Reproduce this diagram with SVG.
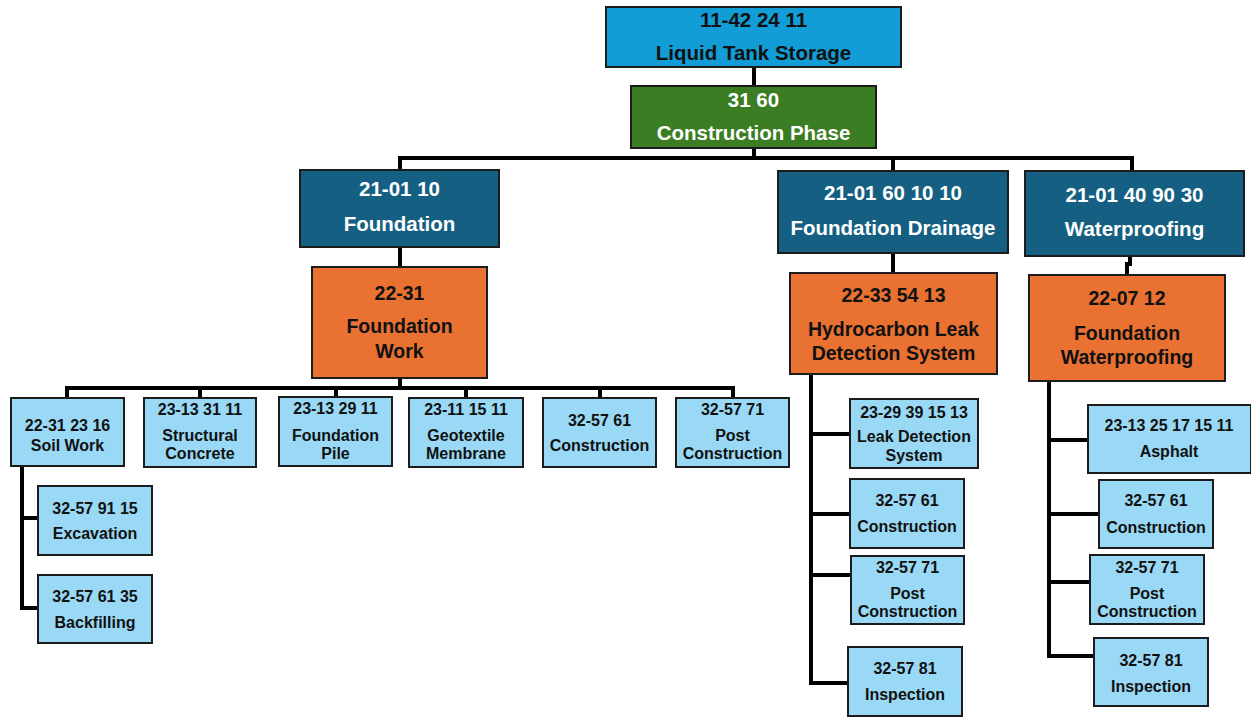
<svg xmlns="http://www.w3.org/2000/svg" width="1251" height="717" viewBox="0 0 1251 717">
  <style>
    .box { stroke: #1c1c1c; stroke-width: 2; }
    .sky { fill: #129dd6; }
    .green { fill: #3b7d23; }
    .navy { fill: #156082; }
    .orange { fill: #e97132; }
    .light { fill: #99d9f5; }
    text { font-family: "Liberation Sans", Arial, sans-serif; font-weight: bold; text-anchor: middle; }
    .t1 { font-size: 20.5px; fill: #111; }
    .tw { font-size: 20.5px; fill: #ffffff; }
    .t2 { font-size: 19.5px; fill: #111; }
    .t3 { font-size: 16px; fill: #111; }
    .link { fill: none; stroke: #000; stroke-width: 4; stroke-linejoin: miter; }
  </style>
  <rect width="1251" height="717" fill="#ffffff"/>

  <!-- connectors -->
  <g id="connectors">
    <path class="link" d="M754 67 V86"/>
    <path class="link" d="M754 148 V158 M400 170 V158 H1132 V172 M893 158 V172"/>
    <path class="link" d="M400 247 V267"/>
    <path class="link" d="M893 253 V273"/>
    <path class="link" d="M1130 256 V264 H1127 V275"/>
    <path class="link" d="M400 378 V388 M67 398 V388 H733 V398 M200 388 V398 M336 388 V398 M466 388 V398 M600 388 V398"/>
    <path class="link" d="M22 466 V608 H38 M22 518 H38"/>
    <path class="link" d="M811 374 V683 H848 M811 434 H850 M811 514 H850 M811 575 H851"/>
    <path class="link" d="M1049 381 V656 H1094 M1049 440 H1088 M1049 514 H1099 M1049 582 H1090"/>
  </g>

  <g id="liquid-tank-storage">
    <rect class="box sky" x="606" y="7" width="295" height="60"/>
    <text class="t1" x="753.5" y="27">11-42 24 11</text>
    <text class="t1" x="753.5" y="60">Liquid Tank Storage</text>
  </g>

  <g id="construction-phase">
    <rect class="box green" x="631" y="86" width="245" height="62"/>
    <text class="tw" x="753.5" y="107">31 60</text>
    <text class="tw" x="753.5" y="140">Construction Phase</text>
  </g>

  <g id="foundation">
    <rect class="box navy" x="300" y="170" width="199" height="77"/>
    <text class="tw" x="399.5" y="196">21-01 10</text>
    <text class="tw" x="399.5" y="231">Foundation</text>
  </g>

  <g id="foundation-drainage">
    <rect class="box navy" x="778" y="171" width="230" height="82"/>
    <text class="tw" x="893" y="200">21-01 60 10 10</text>
    <text class="tw" x="893" y="235">Foundation Drainage</text>
  </g>

  <g id="waterproofing">
    <rect class="box navy" x="1025" y="171" width="219" height="85"/>
    <text class="tw" x="1134.5" y="202">21-01 40 90 30</text>
    <text class="tw" x="1134.5" y="236">Waterproofing</text>
  </g>

  <g id="foundation-work">
    <rect class="box orange" x="312" y="267" width="175" height="111"/>
    <text class="t2" x="399.5" y="300">22-31</text>
    <text class="t2" x="399.5" y="333">Foundation</text>
    <text class="t2" x="399.5" y="358">Work</text>
  </g>

  <g id="hydrocarbon-leak">
    <rect class="box orange" x="790" y="273" width="207" height="101"/>
    <text class="t2" x="893.5" y="302">22-33 54 13</text>
    <text class="t2" x="893.5" y="336">Hydrocarbon Leak</text>
    <text class="t2" x="893.5" y="360">Detection System</text>
  </g>

  <g id="foundation-waterproofing">
    <rect class="box orange" x="1029" y="275" width="196" height="106"/>
    <text class="t2" x="1127" y="305">22-07 12</text>
    <text class="t2" x="1127" y="340">Foundation</text>
    <text class="t2" x="1127" y="364">Waterproofing</text>
  </g>

  <!-- foundation work children -->
  <g id="soil-work">
    <rect class="box light" x="11" y="398" width="113" height="68"/>
    <text class="t3" x="67.5" y="431">22-31 23 16</text>
    <text class="t3" x="67.5" y="451">Soil Work</text>
  </g>
  <g id="structural-concrete">
    <rect class="box light" x="144" y="398" width="112" height="69"/>
    <text class="t3" x="200" y="415">23-13 31 11</text>
    <text class="t3" x="200" y="441">Structural</text>
    <text class="t3" x="200" y="459">Concrete</text>
  </g>
  <g id="foundation-pile">
    <rect class="box light" x="279" y="397" width="113" height="69"/>
    <text class="t3" x="335.5" y="414">23-13 29 11</text>
    <text class="t3" x="335.5" y="441">Foundation</text>
    <text class="t3" x="335.5" y="459">Pile</text>
  </g>
  <g id="geotextile-membrane">
    <rect class="box light" x="409" y="398" width="114" height="69"/>
    <text class="t3" x="466" y="415">23-11 15 11</text>
    <text class="t3" x="466" y="441">Geotextile</text>
    <text class="t3" x="466" y="459">Membrane</text>
  </g>
  <g id="construction-a">
    <rect class="box light" x="543" y="398" width="113" height="69"/>
    <text class="t3" x="599.5" y="426">32-57 61</text>
    <text class="t3" x="599.5" y="451">Construction</text>
  </g>
  <g id="post-construction-a">
    <rect class="box light" x="676" y="398" width="113" height="69"/>
    <text class="t3" x="732.5" y="415">32-57 71</text>
    <text class="t3" x="732.5" y="441">Post</text>
    <text class="t3" x="732.5" y="459">Construction</text>
  </g>

  <!-- soil work children -->
  <g id="excavation">
    <rect class="box light" x="38" y="486" width="114" height="69"/>
    <text class="t3" x="95" y="514">32-57 91 15</text>
    <text class="t3" x="95" y="539">Excavation</text>
  </g>
  <g id="backfilling">
    <rect class="box light" x="38" y="575" width="114" height="68"/>
    <text class="t3" x="95" y="602">32-57 61 35</text>
    <text class="t3" x="95" y="628">Backfilling</text>
  </g>

  <!-- hydrocarbon leak children -->
  <g id="leak-detection-system">
    <rect class="box light" x="850" y="399" width="128" height="69"/>
    <text class="t3" x="914" y="418">23-29 39 15 13</text>
    <text class="t3" x="914" y="442">Leak Detection</text>
    <text class="t3" x="914" y="461">System</text>
  </g>
  <g id="construction-b">
    <rect class="box light" x="850" y="479" width="114" height="69"/>
    <text class="t3" x="907" y="506">32-57 61</text>
    <text class="t3" x="907" y="532">Construction</text>
  </g>
  <g id="post-construction-b">
    <rect class="box light" x="851" y="556" width="113" height="68"/>
    <text class="t3" x="907.5" y="573">32-57 71</text>
    <text class="t3" x="907.5" y="599">Post</text>
    <text class="t3" x="907.5" y="617">Construction</text>
  </g>
  <g id="inspection-b">
    <rect class="box light" x="848" y="647" width="114" height="69"/>
    <text class="t3" x="905" y="674">32-57 81</text>
    <text class="t3" x="905" y="700">Inspection</text>
  </g>

  <!-- foundation waterproofing children -->
  <g id="asphalt">
    <rect class="box light" x="1088" y="405" width="163" height="68"/>
    <text class="t3" x="1169" y="431">23-13 25 17 15 11</text>
    <text class="t3" x="1169" y="457">Asphalt</text>
  </g>
  <g id="construction-c">
    <rect class="box light" x="1099" y="480" width="114" height="68"/>
    <text class="t3" x="1156" y="506">32-57 61</text>
    <text class="t3" x="1156" y="533">Construction</text>
  </g>
  <g id="post-construction-c">
    <rect class="box light" x="1090" y="555" width="114" height="69"/>
    <text class="t3" x="1147" y="573">32-57 71</text>
    <text class="t3" x="1147" y="599">Post</text>
    <text class="t3" x="1147" y="617">Construction</text>
  </g>
  <g id="inspection-c">
    <rect class="box light" x="1094" y="638" width="114" height="68"/>
    <text class="t3" x="1151" y="666">32-57 81</text>
    <text class="t3" x="1151" y="692">Inspection</text>
  </g>
</svg>
